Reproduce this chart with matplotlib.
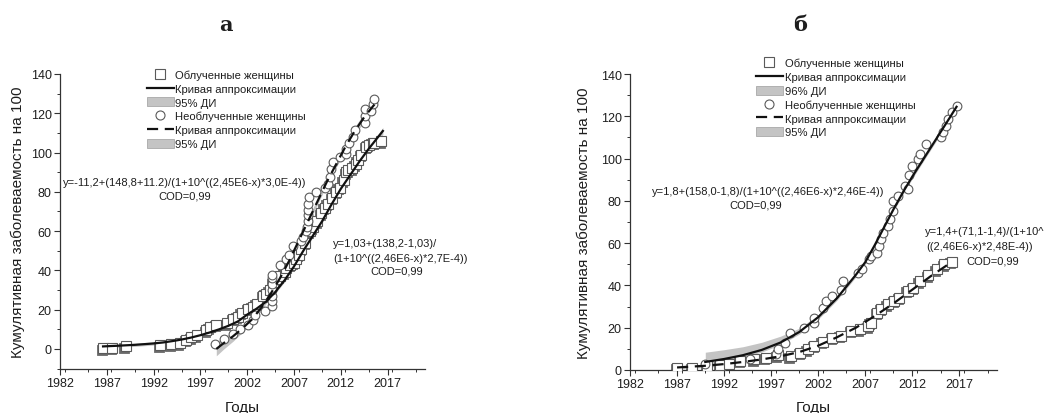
import numpy as np
import matplotlib
matplotlib.use('Agg')
import matplotlib.pyplot as plt
from matplotlib.lines import Line2D
from matplotlib.patches import Patch
from matplotlib.transforms import offset_copy
from matplotlib.ticker import MultipleLocator

plt.rcParams['font.family'] = ['Liberation Sans', 'DejaVu Sans']

# ---- panel a ----
a_sq_x = [1986.6, 1987.6, 1989.0, 1992.7, 1993.9, 1994.8, 1995.5, 1996.0, 1996.6, 1997.6,
          1998.0, 1998.7, 1999.8, 2000.5, 2001.0, 2001.4, 2002.1, 2002.6, 2003.0, 2003.7,
          2004.0, 2004.4, 2004.8, 2005.1, 2005.5, 2006.0, 2006.2, 2006.6, 2007.0, 2007.2,
          2007.5, 2007.8, 2008.2, 2008.7, 2009.0, 2009.5, 2009.9, 2010.3, 2010.6, 2011.1,
          2011.5, 2011.9, 2012.3, 2012.6, 2012.8, 2013.2, 2013.6, 2013.8, 2014.2, 2014.7,
          2015.0, 2015.4, 2015.6, 2016.3]
a_sq_y = [0.3, 0.5, 1.4, 1.8, 2.5, 3.0, 4.8, 6.0, 7.0, 9.5,
          11.0, 12.2, 13.0, 15.5, 16.5, 18.5, 20.5, 21.5, 23.0, 27.0,
          28.0, 30.0, 34.0, 35.5, 37.0, 39.0, 41.0, 43.0, 44.0, 46.0,
          48.0, 51.0, 54.0, 60.0, 62.0, 65.0, 69.0, 72.0, 74.0, 77.0,
          80.0, 82.0, 86.0, 90.0, 91.0, 92.0, 94.0, 96.0, 99.0, 103.0,
          104.0, 105.0, 105.0, 105.7]
a_ci_x = [1998.6, 1999.5, 2000.5, 2001.2, 2002.1, 2002.6, 2002.8, 2003.9, 2004.6, 2004.6,
          2004.6, 2004.6, 2004.6, 2004.6, 2004.7, 2005.5, 2006.2, 2006.5, 2006.9, 2007.8,
          2008.0, 2008.3, 2008.4, 2008.5, 2008.5, 2008.5, 2008.5, 2008.6, 2009.3, 2010.3,
          2010.6, 2010.8, 2011.0, 2011.2, 2011.9, 2012.6, 2012.6, 2012.9, 2013.3, 2013.5,
          2014.6, 2014.6, 2014.6, 2015.2, 2015.4, 2015.6]
a_ci_y = [2.5, 5.0, 7.5, 10.0, 12.0, 15.0, 17.5, 19.5, 22.0, 24.5,
          27.0, 30.0, 33.0, 36.0, 37.5, 42.5, 46.0, 48.0, 52.5, 55.0,
          57.0, 60.0, 62.0, 65.0, 68.0, 71.0, 74.0, 77.5, 80.0, 82.0,
          84.0, 87.5, 91.5, 95.0, 97.5, 99.5, 102.0, 105.0, 108.0, 111.5,
          115.0, 118.5, 122.0, 121.0, 124.5, 127.5]
a_fit1_x = [1986.6, 1988, 1990, 1992, 1993, 1994, 1995, 1996, 1997, 1998, 1999, 2000, 2001,
            2002, 2003, 2004, 2005, 2006, 2007, 2008, 2009, 2010, 2011, 2012, 2013, 2014,
            2015, 2016, 2016.5]
a_fit1_y = [1.3, 1.6, 2.1, 2.8, 3.3, 4.0, 4.8, 5.8, 7.0, 8.4, 10.0, 11.8, 14.0,
            17.5, 20.5, 24.0, 29.0, 35.0, 42.0, 50.0, 57.5, 65.0, 73.5, 81.5, 88.5, 95.5,
            102.0, 108.0, 111.0]
a_fit1_w = [0.8] * 25 + [1.0, 1.2, 1.5, 1.8]
a_fit2_x = [1998.7, 1999.5, 2000.5, 2001.5, 2002.5, 2003.5, 2004.5, 2005.5, 2006.5, 2007.5,
            2008.5, 2009.5, 2010.5, 2011.5, 2012.5, 2013.5, 2014.5, 2015.6]
a_fit2_y = [0.0, 3.0, 6.5, 10.5, 15.0, 21.0, 28.0, 36.0, 45.0, 55.0,
            65.0, 75.0, 85.0, 94.0, 103.0, 111.0, 118.0, 124.5]
a_fit2_w = [3.5, 3.0, 2.5, 2.0, 1.8, 1.5, 1.5, 1.5, 1.5, 1.5,
            1.5, 1.5, 1.5, 1.6, 1.8, 2.0, 2.3, 2.6]

# ---- panel б ----
b_sq_x = [1987.0, 1988.6, 1990.2, 1991.6, 1992.5, 1993.7, 1995.2, 1996.4, 1997.7, 1999.1,
          2000.1, 2000.9, 2001.6, 2002.5, 2003.5, 2004.4, 2005.5, 2006.4, 2007.3, 2007.6,
          2008.3, 2008.7, 2009.4, 2010.1, 2010.6, 2011.5, 2012.1, 2012.8, 2013.7, 2014.6,
          2015.4, 2016.2]
b_sq_y = [1.1, 1.1, 1.9, 2.2, 2.7, 4.3, 5.0, 5.8, 7.0, 6.6,
          8.2, 9.8, 11.4, 13.3, 15.3, 16.1, 18.5, 19.3, 20.8, 22.4,
          27.0, 29.0, 31.0, 32.7, 34.2, 37.4, 39.0, 42.0, 44.8, 47.7,
          50.0, 51.1]
b_ci_x = [1990.0, 1994.8, 1997.5, 1997.7, 1998.5, 1999.0, 2000.5, 2001.6, 2001.6, 2002.5,
          2002.8, 2003.5, 2004.4, 2004.6, 2006.2, 2006.7, 2007.4, 2007.6, 2008.3, 2008.5,
          2008.7, 2008.9, 2009.4, 2009.6, 2009.9, 2009.9, 2010.5, 2011.2, 2011.5, 2011.7,
          2012.0, 2012.6, 2012.8, 2013.5, 2015.1, 2015.3, 2015.6, 2015.8, 2016.2, 2016.7]
b_ci_y = [2.7, 5.0, 7.4, 9.8, 13.0, 17.7, 20.0, 22.4, 24.8, 29.5,
          32.7, 35.0, 38.0, 42.0, 46.0, 47.7, 52.4, 54.0, 55.5, 58.7,
          62.0, 65.0, 68.0, 71.3, 75.3, 80.0, 82.4, 87.0, 85.5, 92.0,
          96.6, 99.7, 102.0, 107.0, 110.0, 112.4, 115.5, 118.7, 121.8, 125.0]
b_fit1_x = [1990, 1992, 1994, 1996, 1998, 2000, 2002, 2004, 2005, 2006, 2007, 2008, 2009,
            2010, 2011, 2012, 2013, 2014, 2015, 2016, 2016.7]
b_fit1_y = [3.8, 5.2, 7.0, 9.5, 13.0, 18.0, 25.0, 34.0, 39.5, 45.0, 51.0, 59.0, 67.5,
            76.0, 84.0, 91.5, 98.5, 105.5, 112.5, 119.5, 124.5]
b_fit1_lo = [2.6, 1.2, 1.0, 1.0, 1.0, 1.0, 1.0, 1.0, 1.0, 1.0, 1.0, 1.0, 1.0,
             1.0, 1.0, 1.0, 1.0, 1.0, 1.0, 1.2, 1.5]
b_fit1_hi = [4.6, 4.4, 4.0, 3.6, 3.0, 1.8, 1.2, 1.0, 1.0, 1.0, 1.0, 1.0, 1.0,
             1.0, 1.0, 1.0, 1.0, 1.0, 1.0, 1.2, 1.5]
b_fit2_x = [1987, 1990, 1992, 1994, 1996, 1998, 2000, 2002, 2004, 2006, 2008, 2010, 2012,
            2014, 2016]
b_fit2_y = [1.2, 2.0, 2.8, 3.8, 5.0, 6.5, 8.5, 11.5, 15.5, 20.0, 25.5, 31.5, 38.0,
            44.5, 50.5]
b_fit2_w = [0.8] * 13 + [1.0, 1.2]

labels_a = ['Облученные женщины', 'Кривая аппроксимации', '95% ДИ',
            'Необлученные женщины', 'Кривая аппроксимации', '95% ДИ']
labels_b = ['Облученные женщины', 'Кривая аппроксимации', '96% ДИ',
            'Необлученные женщины', 'Кривая аппроксимации', '95% ДИ']

TXT = '#1e1e1e'
BAND = '#c4c4c4'
EDGE = '#5a5a5a'
DASH = (0, (5, 3))
EQ = 8.0

fig = plt.figure(figsize=(10.46, 4.14), dpi=100)
axa = fig.add_axes([60 / 1046, 1 - 369.6 / 414, 365 / 1046, 294.6 / 414])
axb = fig.add_axes([630 / 1046, 1 - 371 / 414, 367 / 1046, 296 / 414])


def markers(ax, x, y, m, ms):
    sh = offset_copy(ax.transData, fig=fig, x=-1.5, y=-1.5, units='dots')
    if m == 's':
        ax.plot(x, y, ls='none', marker=m, ms=ms, mfc='#6a6a6a', mec='#6a6a6a',
                mew=0.6, transform=sh, zorder=2)
    ax.plot(x, y, ls='none', marker=m, ms=ms, mfc='white', mec=EDGE, mew=0.8, zorder=3)


def style(ax, ymin):
    for s in ['top', 'right']:
        ax.spines[s].set_visible(False)
    for s in ['left', 'bottom']:
        ax.spines[s].set_color('#333333')
        ax.spines[s].set_linewidth(0.9)
    ax.set_xlim(1982, 2021)
    ax.set_ylim(ymin, 140)
    ax.set_xticks([1982, 1987, 1992, 1997, 2002, 2007, 2012, 2017])
    ax.xaxis.set_minor_locator(MultipleLocator(2.5))
    ax.set_yticks(range(0, 141, 20))
    ax.yaxis.set_minor_locator(MultipleLocator(10))
    ax.tick_params(which='major', length=4, width=0.8, color='#333333',
                   labelsize=9, labelcolor=TXT, pad=2)
    ax.tick_params(which='minor', length=2.5, width=0.7, color='#333333')
    ax.set_ylabel('Кумулятивная заболеваемость на 100', fontsize=11, color=TXT)
    ax.set_xlabel('Годы', fontsize=11, color=TXT)


def legend(ax, labels, x0, y0):
    h = [Line2D([], [], ls='none', marker='s', ms=6.5, mfc='white', mec=EDGE, mew=0.8),
         Line2D([], [], color='#111111', lw=1.6),
         Patch(facecolor=BAND, edgecolor='#a8a8a8', lw=0.6),
         Line2D([], [], ls='none', marker='o', ms=6.5, mfc='white', mec=EDGE, mew=0.8),
         Line2D([], [], color='#111111', lw=1.6, ls=DASH),
         Patch(facecolor=BAND, edgecolor='#a8a8a8', lw=0.6)]
    ax.legend(h, labels, loc='upper left', bbox_to_anchor=(x0, y0), frameon=False,
              fontsize=8.1, labelcolor=TXT, handlelength=2.4, handleheight=0.85,
              handletextpad=0.15, labelspacing=0.3, borderpad=0, borderaxespad=0,
              numpoints=1)


def ftext(x, y, s, ha='left'):
    fig.text(x / 1046, 1 - y / 414, s, fontsize=EQ, color=TXT, va='center', ha=ha)


# panel a
axa.fill_between(a_fit1_x, np.array(a_fit1_y) - a_fit1_w, np.array(a_fit1_y) + a_fit1_w,
                 color=BAND, lw=0, zorder=1)
axa.fill_between(a_fit2_x, np.array(a_fit2_y) - a_fit2_w, np.array(a_fit2_y) + a_fit2_w,
                 color=BAND, lw=0, zorder=1)
markers(axa, a_sq_x, a_sq_y, 's', 6.8)
markers(axa, a_ci_x, a_ci_y, 'o', 6.3)
axa.plot(a_fit1_x, a_fit1_y, color='#111111', lw=1.6, zorder=4)
axa.plot(a_fit2_x, a_fit2_y, color='#111111', lw=1.6, ls=DASH, zorder=4)
style(axa, -10)
axa.yaxis.set_label_coords(-0.096, 0.5)
axa.xaxis.set_label_coords(0.5, -0.105)
legend(axa, labels_a, 0.2375, 1.0146)
ftext(63, 183, 'y=-11,2+(148,8+11.2)/(1+10^((2,45E6-x)*3,0E-4))')
ftext(185, 197, 'COD=0,99', 'center')
ftext(333, 244, 'y=1,03+(138,2-1,03)/')
ftext(333, 259, '(1+10^((2,46E6-x)*2,7E-4))')
ftext(397, 272, 'COD=0,99', 'center')

# panel б
axb.fill_between(b_fit1_x, np.array(b_fit1_y) - b_fit1_lo, np.array(b_fit1_y) + b_fit1_hi,
                 color=BAND, lw=0, zorder=1)
axb.fill_between(b_fit2_x, np.array(b_fit2_y) - b_fit2_w, np.array(b_fit2_y) + b_fit2_w,
                 color=BAND, lw=0, zorder=1)
markers(axb, b_sq_x, b_sq_y, 's', 6.8)
markers(axb, b_ci_x, b_ci_y, 'o', 6.3)
axb.plot(b_fit1_x, b_fit1_y, color='#111111', lw=1.6, zorder=4)
axb.plot(b_fit2_x, b_fit2_y, color='#111111', lw=1.6, ls=DASH, zorder=4)
style(axb, 0)
axb.yaxis.set_label_coords(-0.106, 0.5)
axb.xaxis.set_label_coords(0.5, -0.1)
legend(axb, labels_b, 0.343, 1.054)
ftext(652, 192, 'y=1,8+(158,0-1,8)/(1+10^((2,46E6-x)*2,46E-4))')
ftext(756, 206, 'COD=0,99', 'center')
ftext(925, 232, 'y=1,4+(71,1-1,4)/(1+10^')
ftext(926, 247, '((2,46E6-x)*2,48E-4))')
ftext(993, 261, 'COD=0,99', 'center')

fig.text(226 / 1046, 1 - 25 / 414, 'а', fontsize=15, fontweight='bold',
         family='DejaVu Serif', ha='center', va='center', color=TXT)
fig.text(800 / 1046, 1 - 25 / 414, 'б', fontsize=15, fontweight='bold',
         family='DejaVu Serif', ha='center', va='center', color=TXT)

fig.savefig('out.png', dpi=100)
